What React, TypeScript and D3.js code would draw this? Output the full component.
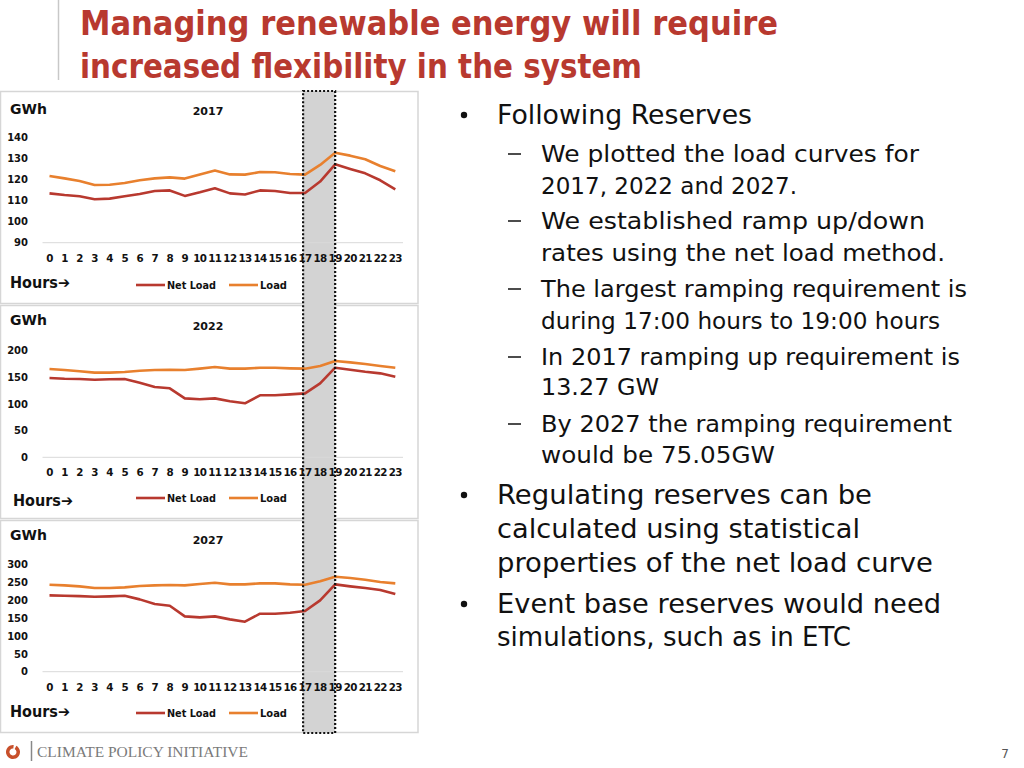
import React from "react";
import * as d3 from "d3";

const hours = d3.range(0, 24);
const hourLabels = hours.map(String);

const net2017 = [113.4, 112.6, 112.0, 110.6, 110.9, 112.0, 113.1, 114.5, 114.8, 112.2, 113.9, 115.8, 113.4, 112.9, 114.8, 114.5, 113.6, 113.6, 119.0, 127.2, 125.0, 122.9, 119.6, 115.3];
const load2017 = [121.6, 120.5, 119.3, 117.4, 117.5, 118.3, 119.6, 120.5, 121.0, 120.4, 122.4, 124.2, 122.4, 122.3, 123.5, 123.4, 122.6, 122.3, 126.9, 132.7, 131.3, 129.6, 126.4, 123.9];

const net2022 = [148.8, 147.5, 146.9, 145.6, 146.3, 146.9, 140.0, 131.9, 129.4, 110.6, 108.8, 110.6, 105.0, 101.3, 116.3, 116.3, 118.1, 120.0, 138.8, 168.1, 164.4, 160.6, 157.5, 151.3];
const load2022 = [165.6, 163.8, 161.3, 158.8, 158.8, 160.0, 162.5, 163.8, 164.4, 163.8, 166.3, 169.4, 166.3, 166.3, 168.1, 168.1, 166.9, 166.3, 171.3, 180.6, 178.1, 175.0, 171.3, 168.1];

const net2027 = [214.0, 213.0, 212.0, 210.3, 211.2, 213.0, 202.8, 189.7, 185.0, 155.1, 152.3, 155.1, 146.7, 140.2, 162.6, 162.6, 165.4, 170.1, 200.0, 244.9, 239.3, 234.6, 229.0, 217.8];
const load2027 = [243.9, 242.0, 239.3, 234.6, 234.6, 236.4, 240.2, 242.0, 243.0, 242.0, 245.8, 249.5, 244.9, 244.9, 247.7, 247.7, 244.9, 243.9, 253.3, 266.4, 262.6, 257.9, 251.4, 247.7];

const ticks2017 = [90, 100, 110, 120, 130, 140];
const ticks2022 = [0, 50, 100, 150, 200];
const ticks2027 = [0, 50, 100, 150, 200, 250, 300];

const years = ["2017", "2022", "2027"];
const seriesNames = ["Net Load", "Load"];

const titleLines = ["Managing renewable energy will require", "increased flexibility in the system"];

type Line = { kind: "bullet" | "dash" | "cont0" | "cont1"; text: string; y: number; w: number };
const bodyLines: Line[] = [
  { kind: "bullet", text: "Following Reserves", y: 124, w: 255 },
  { kind: "dash", text: "We plotted the load curves for", y: 162, w: 378 },
  { kind: "cont1", text: "2017, 2022 and 2027.", y: 194, w: 256 },
  { kind: "dash", text: "We established ramp up/down", y: 229, w: 384 },
  { kind: "cont1", text: "rates using the net load method.", y: 261, w: 404 },
  { kind: "dash", text: "The largest ramping requirement is", y: 297, w: 426 },
  { kind: "cont1", text: "during 17:00 hours to 19:00 hours", y: 329, w: 399 },
  { kind: "dash", text: "In 2017 ramping up requirement is", y: 365, w: 419 },
  { kind: "cont1", text: "13.27 GW", y: 395, w: 118 },
  { kind: "dash", text: "By 2027 the ramping requirement", y: 432, w: 411 },
  { kind: "cont1", text: "would be 75.05GW", y: 463, w: 234 },
  { kind: "bullet", text: "Regulating reserves can be", y: 504, w: 375 },
  { kind: "cont0", text: "calculated using statistical", y: 538, w: 363 },
  { kind: "cont0", text: "properties of the net load curve", y: 572, w: 436 },
  { kind: "bullet", text: "Event base reserves would need", y: 613, w: 444 },
  { kind: "cont0", text: "simulations, such as in ETC", y: 646, w: 354 },
];

const RED = "#B8392F";
const ORANGE = "#E8802E";
const FONT = "'DejaVu Sans', sans-serif";

const x = d3.scalePoint<number>().domain(hours).range([49.5, 395.3]);

type PanelSpec = {
  year: string;
  net: number[];
  load: number[];
  ticks: number[];
  domain: [number, number];
  top: number;
  bottom: number;
  y0: number;
  y1: number;
  gwhY: number;
  yearY: number;
  xLabY: number;
  hoursX: number;
  hoursY: number;
  legY: number;
};

const panels: PanelSpec[] = [
  { year: years[0], net: net2017, load: load2017, ticks: ticks2017, domain: [90, 140], top: 91, bottom: 304, y0: 242.7, y1: 137.3, gwhY: 114, yearY: 115, xLabY: 262, hoursX: 10, hoursY: 288, legY: 285 },
  { year: years[1], net: net2022, load: load2022, ticks: ticks2022, domain: [0, 200], top: 305, bottom: 519, y0: 457.3, y1: 350.7, gwhY: 325, yearY: 330, xLabY: 475.5, hoursX: 13, hoursY: 506, legY: 498 },
  { year: years[2], net: net2027, load: load2027, ticks: ticks2027, domain: [0, 300], top: 520, bottom: 733, y0: 671.7, y1: 564.7, gwhY: 540, yearY: 544, xLabY: 690.5, hoursX: 10, hoursY: 717, legY: 713 },
];

function Panel({ p }: { p: PanelSpec }) {
  const y = d3.scaleLinear().domain(p.domain).range([p.y0, p.y1]);
  const line = d3
    .line<number>()
    .x((_, i) => x(hours[i]) as number)
    .y((d) => y(d));
  return (
    <g>
      <line x1={42.5} x2={403} y1={y(p.domain[0])} y2={y(p.domain[0])} stroke="#d9d9d9" strokeWidth={1} />
      {p.ticks.map((t) => (
        <text key={t} x={28} y={y(t) + 3.7} textAnchor="end" fontSize={10} fontWeight="bold" fontFamily={FONT} fill="#111">
          {t}
        </text>
      ))}
      {hours.map((h, i) => (
        <text key={h} x={x(h) as number} y={p.xLabY} textAnchor="middle" fontSize={10.3} fontWeight="bold" fontFamily={FONT} fill="#111" letterSpacing={-0.6}>
          {hourLabels[i]}
        </text>
      ))}
      <path d={line(p.load) || ""} fill="none" stroke={ORANGE} strokeWidth={2.6} strokeLinejoin="round" />
      <path d={line(p.net) || ""} fill="none" stroke={RED} strokeWidth={2.6} strokeLinejoin="round" />
      <text x={10} y={p.gwhY} fontSize={14} fontWeight="bold" fontFamily={FONT} fill="#111">GWh</text>
      <text x={208} y={p.yearY} textAnchor="middle" fontSize={11} fontWeight="bold" fontFamily={FONT} fill="#111">{p.year}</text>
      <text x={p.hoursX} y={p.hoursY} fontSize={15} fontWeight="bold" fontFamily={FONT} fill="#111" textLength={60} lengthAdjust="spacingAndGlyphs">Hours➔</text>
      <line x1={136} x2={165} y1={p.legY} y2={p.legY} stroke={RED} strokeWidth={2.6} />
      <text x={167} y={p.legY + 4} fontSize={10.5} fontWeight="bold" fontFamily={FONT} fill="#111" textLength={49} lengthAdjust="spacingAndGlyphs">{seriesNames[0]}</text>
      <line x1={229} x2={258} y1={p.legY} y2={p.legY} stroke={ORANGE} strokeWidth={2.6} />
      <text x={260} y={p.legY + 4} fontSize={10.5} fontWeight="bold" fontFamily={FONT} fill="#111" textLength={27} lengthAdjust="spacingAndGlyphs">{seriesNames[1]}</text>
    </g>
  );
}

export default function App() {
  const bandX0 = x(17) as number;
  const bandX1 = x(19) as number;
  return (
    <svg width={1024} height={768} style={{ position: "absolute", left: 0, top: 0, background: "#fff" }}>
      <rect x={0} y={0} width={1024} height={768} fill="#fff" />
      {/* title */}
      <line x1={58.5} x2={58.5} y1={0} y2={80} stroke="#c8c8c8" strokeWidth={1.5} />
      {titleLines.map((t, i) => (
        <text key={i} x={80} y={35 + i * 43} fontSize={34.5} fontWeight="bold" fontFamily={FONT} fill={RED} textLength={i === 0 ? 698 : 562} lengthAdjust="spacingAndGlyphs">
          {t}
        </text>
      ))}
      {/* panels */}
      {panels.map((p) => (
        <rect key={p.year} x={0.5} y={p.top + 0.5} width={417.5} height={p.bottom - p.top - 1} fill="#fff" stroke="#d6d6d6" strokeWidth={1.5} />
      ))}
      <rect x={bandX0 - 2} y={91} width={bandX1 - bandX0 + 2} height={642} fill="#d3d3d3" />
      {panels.map((p) => (
        <Panel key={p.year} p={p} />
      ))}
      <rect x={bandX0 - 2} y={91} width={bandX1 - bandX0 + 2} height={642} fill="none" stroke="#111" strokeWidth={2.2} strokeDasharray="2,2" />
      {/* body text */}
      {bodyLines.map((l, i) => {
        const isMain = l.kind === "bullet" || l.kind === "cont0";
        const tx = isMain ? 497 : 541;
        const fs = isMain ? 27 : 23.5;
        return (
          <g key={i}>
            {l.kind === "bullet" && (
              <circle cx={464} cy={l.y - 9} r={3.2} fill="#111" />
            )}
            {l.kind === "dash" && (
              <line x1={508} x2={521} y1={l.y - 8} y2={l.y - 8} stroke="#111" strokeWidth={1.5} />
            )}
            <text x={tx} y={l.y} fontSize={fs} fontFamily={FONT} fill="#111" textLength={l.w} lengthAdjust="spacingAndGlyphs">
              {l.text}
            </text>
          </g>
        );
      })}
      {/* footer logo */}
      <path d={d3.arc()({ innerRadius: 3.5, outerRadius: 7, startAngle: 0.5, endAngle: 2 * Math.PI + 0.1 }) || ""} transform="translate(13,752)" fill="#C8502B" />
      <line x1={31.5} x2={31.5} y1={741} y2={761} stroke="#888" strokeWidth={1.5} />
      <text x={37} y={757} fontSize={15.5} fontFamily="'Liberation Serif', 'DejaVu Serif', serif" fill="#7a7a7a" textLength={211} lengthAdjust="spacingAndGlyphs">
        CLIMATE POLICY INITIATIVE
      </text>
      <text x={1009} y={758} textAnchor="end" fontSize={12} fontFamily={FONT} fill="#555">7</text>
    </svg>
  );
}
